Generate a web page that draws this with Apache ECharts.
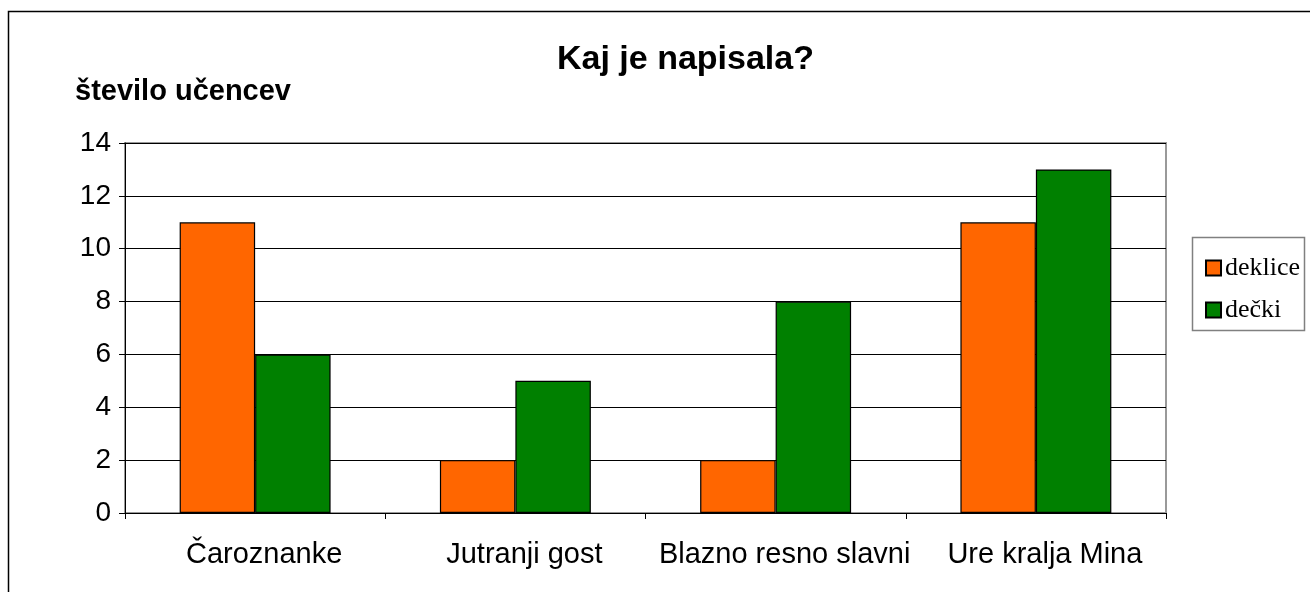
<!DOCTYPE html>
<html>
<head>
<meta charset="utf-8">
<script src="https://cdn.jsdelivr.net/npm/echarts@6/dist/echarts.min.js"></script>
<style>
html, body { margin: 0; padding: 0; background: #fff; }
#main { width: 1310px; height: 592px; }
</style>
</head>
<body>
<div id="main"></div>
<script>
var categories = ['Čaroznanke', 'Jutranji gost', 'Blazno resno slavni', 'Ure kralja Mina'];
var deklice = [11, 2, 2, 11];
var decki = [6, 5, 8, 13];
var yTicks = [0, 2, 4, 6, 8, 10, 12, 14];

var myChart = echarts.init(document.getElementById('main'));
var option = {
    animation: false,
    title: {
        text: 'Kaj je napisala?',
        left: 552,
        top: 38,
        textStyle: { fontFamily: 'Liberation Sans', fontSize: 34, fontWeight: 'bold', color: '#000' }
    },
    graphic: [
        {
            type: 'rect',
            shape: { x: 8.5, y: 11.5, width: 1400, height: 700 },
            style: { fill: 'none', stroke: '#000', lineWidth: 1.5 },
            silent: true
        },
        {
            type: 'rect',
            shape: { x: 1192.5, y: 237.5, width: 112, height: 93 },
            style: { fill: '#fff', stroke: '#808080', lineWidth: 1.5 },
            silent: true,
            z: 0
        }
    ],
    legend: {
        orient: 'vertical',
        left: 1200,
        top: 250,
        itemWidth: 15,
        itemHeight: 15,
        itemGap: 16,
        icon: 'rect',
        textStyle: { fontFamily: 'Liberation Serif', fontSize: 26, color: '#000', padding: [0, 0, 0, -1] },
        data: ['deklice', 'dečki'],
        z: 5
    },
    grid: { left: 125, top: 143, width: 1041, height: 370, show: true, borderColor: '#999', borderWidth: 2, backgroundColor: 'transparent' },
    xAxis: {
        type: 'category',
        data: categories,
        axisLine: { lineStyle: { color: '#000', width: 1 } },
        axisTick: { show: true, interval: 0, length: 6, inside: false, lineStyle: { color: '#000' } },
        axisLabel: { interval: 0, fontFamily: 'Liberation Sans', fontSize: 29, color: '#000', margin: 27, padding: [0, 0, 0, 18] }
    },
    yAxis: {
        type: 'value',
        min: 0,
        max: 14,
        interval: 2,
        name: 'število učencev',
        nameLocation: 'end',
        nameGap: 37,
        nameTextStyle: { fontFamily: 'Liberation Sans', fontSize: 29, fontWeight: 'bold', color: '#000', align: 'left', padding: [0, 0, 0, -50] },
        axisLine: { show: true, lineStyle: { color: '#000', width: 1 } },
        axisTick: { show: true, length: 6, lineStyle: { color: '#000' } },
        axisLabel: { fontFamily: 'Liberation Sans', fontSize: 28, color: '#000', margin: 14,
            formatter: function (v) { return yTicks.indexOf(v) >= 0 ? String(v) : ''; } },
        splitLine: { show: true, lineStyle: { color: '#000', width: 1.2 } }
    },
    series: [
        {
            name: 'deklice',
            type: 'bar',
            data: deklice,
            barGap: '0%',
            barCategoryGap: '42%',
            itemStyle: { color: '#ff6600', borderColor: '#000', borderWidth: 1.2 }
        },
        {
            name: 'dečki',
            type: 'bar',
            data: decki,
            itemStyle: { color: '#008000', borderColor: '#000', borderWidth: 1.2 }
        }
    ]
};
myChart.setOption(option);
</script>
</body>
</html>
